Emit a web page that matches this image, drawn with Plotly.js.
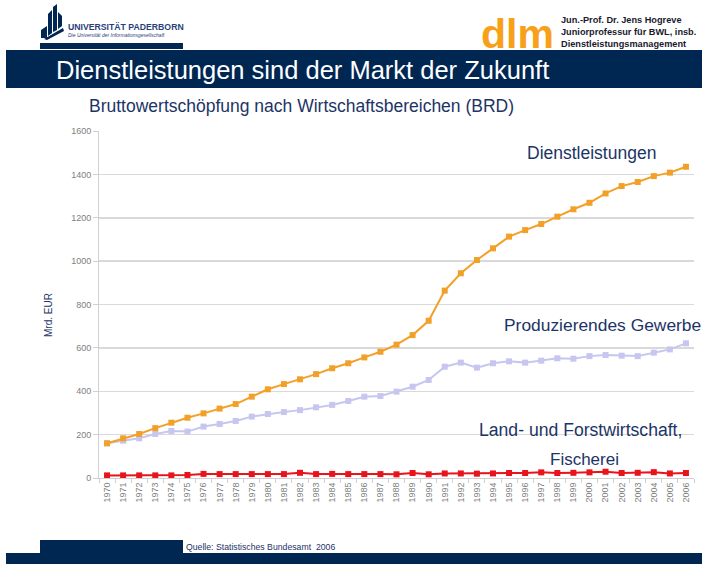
<!DOCTYPE html>
<html>
<head>
<meta charset="utf-8">
<script src="https://cdn.plot.ly/plotly-3.0.1.min.js"></script>
<style>html,body{margin:0;padding:0;background:#fff;}#chart{width:702px;height:564px;}</style>
</head>
<body>
<div id="chart"></div>
<script>
var years = ['1970','1971','1972','1973','1974','1975','1976','1977','1978','1979','1980','1981','1982','1983','1984','1985','1986','1987','1988','1989','1990','1991','1992','1993','1994','1995','1996','1997','1998','1999','2000','2001','2002','2003','2004','2005','2006'];
var dienstleistungen = [160,183,203,230,255,278,298,320,341,375,409,433,455,479,506,529,556,582,615,659,725,864,944,1005,1059,1113,1143,1171,1205,1239,1269,1312,1346,1365,1392,1408,1435];
var produzierendes = [160,172,183,203,217,214,237,249,263,283,295,304,313,326,337,355,375,378,398,421,452,513,532,509,529,538,532,541,552,550,562,567,564,562,578,593,621];
var landForst = [12,12,12,12,12,14,19,18,18,18,18,18,24,18,19,18,18,18,17,23,17,21,21,20,21,23,23,26,23,24,26,29,23,24,27,21,23];
var yTicks = [0,200,400,600,800,1000,1200,1400,1600];

var NAVY = '#002652';
var TXT = '#1c3466';
var FONT = 'Liberation Sans, Arial, sans-serif';

// pixel -> paper helpers (plot area: x 99..694, y 131..478)
var L = 99, R = 694, T = 131, B = 478;
function px(x){ return (x - L) / (R - L); }
function py(y){ return (B - y) / (B - T); }

function ser(name, y, color, lw){
  return {type:'scatter', mode:'lines+markers', name:name, x:years, y:y,
    line:{color:color, width:lw}, marker:{symbol:'square', size:6, color:color}, cliponaxis:false};
}
var data = [
  ser('Produzierendes Gewerbe', produzierendes, '#c6c6f0', 2),
  ser('Dienstleistungen', dienstleistungen, '#f2a027', 2),
  ser('Land- und Forstwirtschaft, Fischerei', landForst, '#e8141c', 2)
];

function ann(text, x, y, size, color, opts){
  var a = {text:text, xref:'paper', yref:'paper', x:px(x), y:py(y), showarrow:false,
    font:{family:FONT, size:size, color:color}, xanchor:'left', yanchor:'middle'};
  for (var k in (opts||{})) a[k] = opts[k];
  return a;
}
function rect(x0,y0,x1,y1,color){
  return {type:'rect', xref:'paper', yref:'paper', x0:px(x0), x1:px(x1), y0:py(y1), y1:py(y0),
    fillcolor:color, line:{width:0}, layer:'above'};
}
function path(pts, color){
  var d = pts.map(function(p,i){ return (i? 'L':'M') + px(p[0]) + ',' + py(p[1]); }).join(' ') + ' Z';
  return {type:'path', xref:'paper', yref:'paper', path:d, fillcolor:color, line:{width:0}, layer:'above'};
}

var shapes = [
  rect(6, 50, 702, 88, NAVY),
  rect(40, 43, 183, 49, NAVY),
  rect(40, 540, 183, 553, NAVY),
  rect(6, 553, 702, 564, NAVY),
  // logo marks
  path([[41,38],[41,30],[47,26],[47,38]], NAVY),
  path([[48,36],[48,14],[52,10],[52,33]], NAVY),
  path([[53,32],[53,7],[57,4],[57,30]], NAVY),
  path([[58,29],[58,12],[62,16],[62,26]], NAVY),
  path([[44,39],[63,28],[64,31],[47,40]], NAVY)
];

var annotations = [
  ann('<b>UNIVERSITÄT PADERBORN</b>', 66, 27, 8.7, '#2a3f7a'),
  ann('<i>Die Universität der Informationsgesellschaft</i>', 66, 35, 5, '#2a3f7a'),
  ann('<b>dlm</b>', 479, 34, 41, '#f7a11a'),
  ann('<b>Jun.-Prof. Dr. Jens Hogreve</b><br><b>Juniorprofessur für BWL, insb.</b><br><b>Dienstleistungsmanagement</b>',
      559, 32, 9.2, '#1a1a2e', {align:'left'}),
  ann('Dienstleistungen sind der Markt der Zukunft', 54, 70, 25.5, '#ffffff'),
  ann('Bruttowertschöpfung nach Wirtschaftsbereichen (BRD)', 87, 106, 17.5, TXT),
  ann('Dienstleistungen', 525, 153, 17.5, TXT),
  ann('Produzierendes Gewerbe', 502, 325, 17.4, TXT),
  ann('Land- und Forstwirtschaft,', 477, 430, 17.6, TXT),
  ann('Fischerei', 584, 459, 17, TXT, {xanchor:'center'}),
  ann('Mrd. EUR', 48, 315, 10, TXT, {textangle:-90, xanchor:'center'}),
  ann('Quelle: Statistisches Bundesamt  2006', 184, 547, 8.7, '#1c3466')
];

var layout = {
  width:702, height:564,
  margin:{l:L, r:702-R, t:T, b:564-B, pad:0},
  paper_bgcolor:'#ffffff', plot_bgcolor:'#ffffff',
  showlegend:false,
  font:{family:FONT, color:'#777777', size:9},
  xaxis:{type:'category', range:[-0.5, 36.5], tickangle:-90, tickson:'boundaries',
    ticks:'outside', ticklen:4, tickcolor:'#d0d0d0', showgrid:false,
    showline:true, linecolor:'#d0d0d0', linewidth:1, zeroline:false,
    tickfont:{family:FONT, size:9, color:'#808080'}, fixedrange:true},
  yaxis:{range:[0,1600], tickvals:yTicks, ticktext:yTicks.map(String),
    ticks:'outside', ticklen:5, tickcolor:'#d0d0d0', showgrid:true, gridcolor:'#d9d9d9', gridwidth:1.5,
    showline:true, linecolor:'#d0d0d0', zeroline:false,
    tickfont:{family:FONT, size:9, color:'#808080'}, fixedrange:true},
  shapes:shapes,
  annotations:annotations
};

Plotly.newPlot('chart', data, layout, {staticPlot:true, displayModeBar:false});
</script>
</body>
</html>
